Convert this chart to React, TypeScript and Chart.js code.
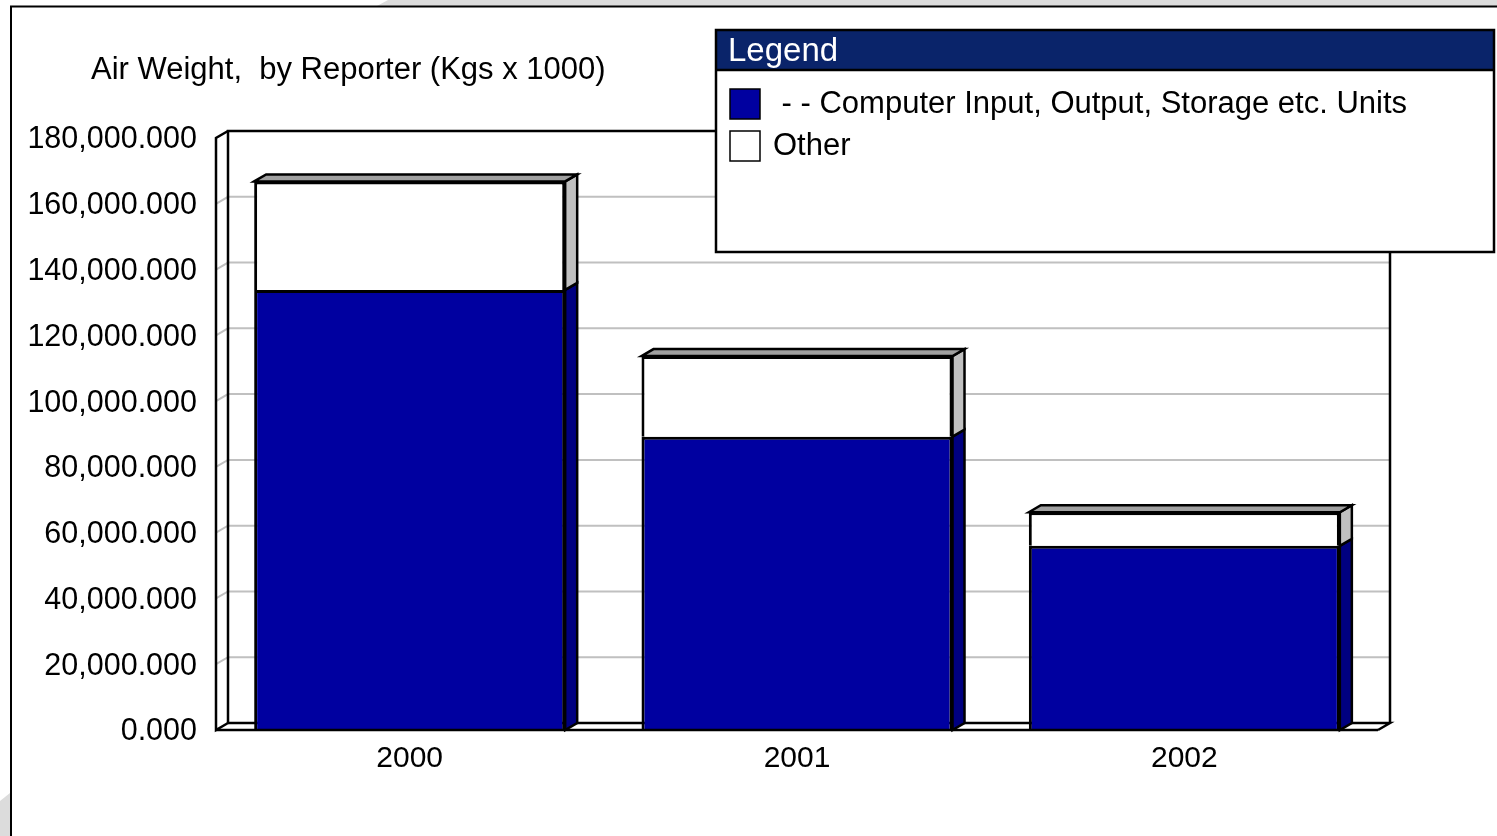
import React, { useEffect, useRef } from "react";
import { Chart, registerables } from "chart.js";

Chart.register(...registerables);

// ---- data ----
const years = ["2000", "2001", "2002"];
const computerUnits = [133800, 89200, 56000];
const otherGoods = [33000, 24500, 10200];
const seriesNames = [" - - Computer Input, Output, Storage etc. Units", "Other"];
const seriesColors = ["#0000A0", "#FFFFFF"];
const sideColors = ["#000080", "#C0C0C0"];
const topColor = "#A0A0A0";
const yMax = 180000;
const yStep = 20000;
const chartTitle = "Air Weight,  by Reporter (Kgs x 1000)";
const legendTitle = "Legend";

const DX = 12;
const DY = 7;
const FONT = "'Liberation Sans', Arial, sans-serif";

const fmt = (v: number) =>
  Number(v).toLocaleString("en-US", { minimumFractionDigits: 3, maximumFractionDigits: 3 });

const line = (ctx: CanvasRenderingContext2D, pts: number[][], color: string, w: number) => {
  ctx.save();
  ctx.strokeStyle = color;
  ctx.lineWidth = w;
  ctx.beginPath();
  ctx.moveTo(pts[0][0], pts[0][1]);
  for (let i = 1; i < pts.length; i++) ctx.lineTo(pts[i][0], pts[i][1]);
  ctx.stroke();
  ctx.restore();
};

const poly = (ctx: CanvasRenderingContext2D, pts: number[][], fill: string) => {
  ctx.save();
  ctx.beginPath();
  ctx.moveTo(pts[0][0], pts[0][1]);
  for (let i = 1; i < pts.length; i++) ctx.lineTo(pts[i][0], pts[i][1]);
  ctx.closePath();
  ctx.fillStyle = fill;
  ctx.fill();
  ctx.strokeStyle = "#000";
  ctx.lineWidth = 2.5;
  ctx.lineJoin = "miter";
  ctx.stroke();
  ctx.restore();
};

const pagePlugin = {
  id: "pageDecor",
  beforeDraw(chart: any) {
    const ctx: CanvasRenderingContext2D = chart.ctx;
    const W = chart.width;
    const H = chart.height;
    ctx.save();
    ctx.fillStyle = "#fff";
    ctx.fillRect(0, 0, W, H);
    ctx.fillStyle = "#DCDCDC";
    ctx.beginPath();
    ctx.moveTo(388, 0);
    ctx.lineTo(W, 0);
    ctx.lineTo(W, 6);
    ctx.lineTo(377, 6);
    ctx.closePath();
    ctx.fill();
    ctx.beginPath();
    ctx.moveTo(0, 801);
    ctx.lineTo(10, 793);
    ctx.lineTo(10, H);
    ctx.lineTo(0, H);
    ctx.closePath();
    ctx.fill();
    ctx.restore();
    line(ctx, [[11, H], [11, 6.5], [W, 6.5]], "#000", 2);

    ctx.save();
    ctx.fillStyle = "#000";
    ctx.font = `31px ${FONT}`;
    ctx.textBaseline = "alphabetic";
    ctx.textAlign = "left";
    ctx.fillText(chartTitle, 91, 79);
    ctx.restore();
  },
};

const box3dPlugin = {
  id: "box3d",
  beforeDatasetsDraw(chart: any) {
    const ctx: CanvasRenderingContext2D = chart.ctx;
    const { left, right, top, bottom } = chart.chartArea;
    const ys = chart.scales.y;
    // gridlines on back wall + left wall
    ys.ticks.forEach((t: any) => {
      const v = t.value;
      if (v === 0 || v === yMax) return;
      const y = ys.getPixelForValue(v);
      line(ctx, [[left, y], [left + DX, y - DY], [right + DX, y - DY]], "#C0C0C0", 2);
    });
    // back wall frame
    line(ctx, [[left + DX, bottom - DY], [left + DX, top - DY], [right + DX, top - DY], [right + DX, bottom - DY]], "#000", 2.5);
    // left wall front edge
    line(ctx, [[left + DX, top - DY], [left, top], [left, bottom], [left + DX, bottom - DY]], "#000", 2.5);
    // floor
    line(ctx, [[left + DX, bottom - DY], [right + DX, bottom - DY], [right, bottom]], "#000", 2.5);

    // bar side & top faces
    const n = chart.data.datasets.length;
    for (let d = 0; d < n; d++) {
      const meta = chart.getDatasetMeta(d);
      meta.data.forEach((el: any) => {
        const p = el.getProps(["x", "y", "base", "width"], true);
        const l = p.x - p.width / 2;
        const r = p.x + p.width / 2;
        const yT = Math.min(p.y, p.base);
        const yB = Math.max(p.y, p.base);
        poly(ctx, [[r, yT], [r + DX, yT - DY], [r + DX, yB - DY], [r, yB]], sideColors[d]);
        if (d === n - 1) {
          poly(ctx, [[l, yT], [l + DX, yT - DY], [r + DX, yT - DY], [r, yT]], topColor);
        }
      });
    }
  },
  afterDatasetsDraw(chart: any) {
    const ctx: CanvasRenderingContext2D = chart.ctx;
    const { left, right, bottom } = chart.chartArea;
    line(ctx, [[left, bottom], [right, bottom]], "#000", 2.5);
  },
  afterDraw(chart: any) {
    const ctx: CanvasRenderingContext2D = chart.ctx;
    const bx = 716, by = 30, bw = 778, bh = 222;
    ctx.save();
    ctx.fillStyle = "#fff";
    ctx.fillRect(bx, by, bw, bh);
    ctx.fillStyle = "#0A246A";
    ctx.fillRect(bx, by, bw, 40);
    ctx.restore();
    line(ctx, [[bx, by + 40], [bx + bw, by + 40]], "#000", 2.5);
    ctx.save();
    ctx.strokeStyle = "#000";
    ctx.lineWidth = 2.5;
    ctx.strokeRect(bx, by, bw, bh);
    ctx.fillStyle = "#fff";
    ctx.font = `33px ${FONT}`;
    ctx.textBaseline = "alphabetic";
    ctx.fillText(legendTitle, 728, 61);
    const ds = chart.data.datasets;
    ds.forEach((d: any, i: number) => {
      const sy = 89 + i * 42;
      ctx.fillStyle = d.backgroundColor;
      ctx.fillRect(730, sy, 30, 30);
      ctx.strokeStyle = "#000";
      ctx.lineWidth = 1.5;
      ctx.strokeRect(730, sy, 30, 30);
      ctx.fillStyle = "#000";
      ctx.font = `31px ${FONT}`;
      ctx.fillText(d.label, 773, sy + 23.5);
    });
    ctx.restore();
  },
};

export default function App() {
  const ref = useRef<HTMLCanvasElement>(null);
  useEffect(() => {
    if (!ref.current) return;
    const chart = new Chart(ref.current, {
      type: "bar",
      data: {
        labels: years,
        datasets: [
          {
            label: seriesNames[0],
            data: computerUnits,
            backgroundColor: seriesColors[0],
            borderColor: "#000",
            borderWidth: 3,
          },
          {
            label: seriesNames[1],
            data: otherGoods,
            backgroundColor: seriesColors[1],
            borderColor: "#000",
            borderWidth: 3,
          },
        ],
      },
      options: {
        animation: false,
        responsive: false,
        devicePixelRatio: 1,
        layout: { padding: { left: 0, top: 138, right: 119, bottom: 0 } },
        plugins: { legend: { display: false }, title: { display: false }, tooltip: { enabled: false } },
        datasets: { bar: { barPercentage: 0.803, categoryPercentage: 1 } },
        scales: {
          x: {
            stacked: true,
            grid: { display: false, drawTicks: false },
            border: { display: false },
            ticks: { color: "#000", font: { family: FONT, size: 30 }, padding: 11 },
            afterFit: (s: any) => {
              s.height = 106;
            },
          },
          y: {
            stacked: true,
            min: 0,
            max: yMax,
            grid: { display: false, drawTicks: false },
            border: { display: false },
            ticks: {
              stepSize: yStep,
              color: "#000",
              font: { family: FONT, size: 30.5 },
              padding: 19,
              labelOffset: 2,
              callback: (v: any) => fmt(v),
            },
            afterFit: (s: any) => {
              s.width = 216;
            },
          },
        },
      },
      plugins: [pagePlugin, box3dPlugin],
    });
    return () => chart.destroy();
  }, []);
  return (
    <div style={{ position: "absolute", left: 0, top: 0, width: 1497, height: 836 }}>
      <canvas ref={ref} width={1497} height={836} style={{ display: "block" }} />
    </div>
  );
}
